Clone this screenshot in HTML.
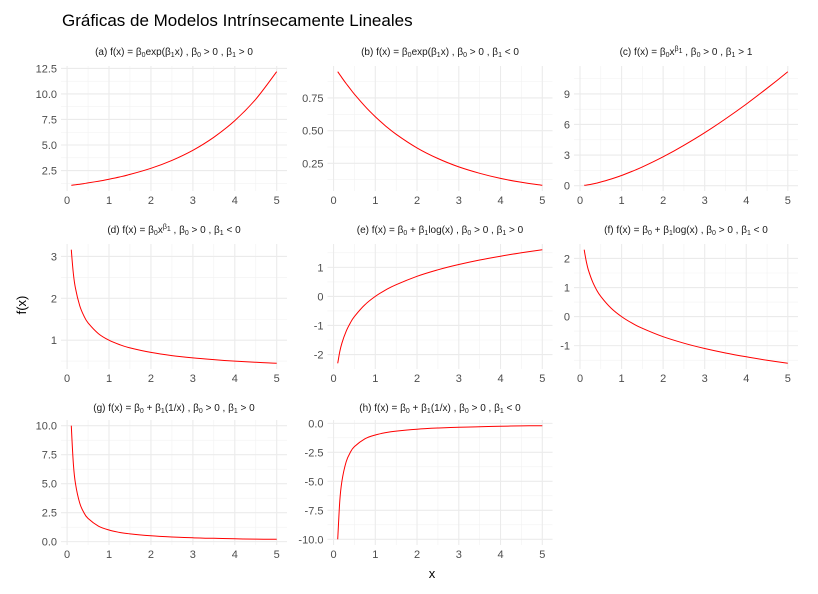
<!DOCTYPE html>
<html><head><meta charset="utf-8"><style>
body{margin:0;background:#fff;font-family:"Liberation Sans",sans-serif;}
#wrap{position:relative;width:818px;height:594px;overflow:hidden;}
.ttl{position:absolute;font-size:10px;color:#1a1a1a;white-space:nowrap;transform:translateX(-50%);}
.ttl sub{font-size:7px;vertical-align:-2px;line-height:0}
.ttl sup{font-size:7px;vertical-align:4px;line-height:0}
</style></head><body>
<div id="wrap">
<svg id="svg" width="818" height="594" style="position:absolute;left:0;top:0">
<text x="62" y="26" font-size="17" fill="#000">Gráficas de Modelos Intrínsecamente Lineales</text>
<text x="432" y="578" font-size="13" fill="#000" text-anchor="middle">x</text>
<text x="26" y="305" font-size="13" fill="#000" text-anchor="middle" transform="rotate(-90 26 305)">f(x)</text>
</svg>
<div class="ttl" style="left:174px;top:47px">(a) f(x) = β<sub>0</sub>exp(β<sub>1</sub>x) , β<sub>0</sub> &gt; 0 , β<sub>1</sub> &gt; 0</div>
<div class="ttl" style="left:440px;top:47px">(b) f(x) = β<sub>0</sub>exp(β<sub>1</sub>x) , β<sub>0</sub> &gt; 0 , β<sub>1</sub> &lt; 0</div>
<div class="ttl" style="left:686px;top:47px">(c) f(x) = β<sub>0</sub>x<sup>β<sub>1</sub></sup> , β<sub>0</sub> &gt; 0 , β<sub>1</sub> &gt; 1</div>
<div class="ttl" style="left:174px;top:225px">(d) f(x) = β<sub>0</sub>x<sup>β<sub>1</sub></sup> , β<sub>0</sub> &gt; 0 , β<sub>1</sub> &lt; 0</div>
<div class="ttl" style="left:440px;top:225px">(e) f(x) = β<sub>0</sub> + β<sub>1</sub>log(x) , β<sub>0</sub> &gt; 0 , β<sub>1</sub> &gt; 0</div>
<div class="ttl" style="left:686px;top:225px">(f) f(x) = β<sub>0</sub> + β<sub>1</sub>log(x) , β<sub>0</sub> &gt; 0 , β<sub>1</sub> &lt; 0</div>
<div class="ttl" style="left:174px;top:403px">(g) f(x) = β<sub>0</sub> + β<sub>1</sub>(1/x) , β<sub>0</sub> &gt; 0 , β<sub>1</sub> &gt; 0</div>
<div class="ttl" style="left:440px;top:403px">(h) f(x) = β<sub>0</sub> + β<sub>1</sub>(1/x) , β<sub>0</sub> &gt; 0 , β<sub>1</sub> &lt; 0</div>
</div>
<script>
const xVals=[0.1,0.15,0.2,0.3,0.4,0.5,0.75,1,1.25,1.5,2,2.5,3,3.5,4,4.5,5];
const xTicks=[0,1,2,3,4,5];
const yA=[1.051,1.078,1.105,1.162,1.221,1.284,1.455,1.649,1.868,2.117,2.718,3.490,4.482,5.755,7.389,9.488,12.182];
const yB=[0.951,0.928,0.905,0.861,0.819,0.779,0.687,0.607,0.535,0.472,0.368,0.287,0.223,0.174,0.135,0.105,0.082];
const yC=[0.032,0.058,0.089,0.164,0.253,0.354,0.650,1,1.398,1.837,2.828,3.953,5.196,6.548,8,9.546,11.180];
const yD=[3.162,2.582,2.236,1.826,1.581,1.414,1.155,1,0.894,0.816,0.707,0.632,0.577,0.535,0.5,0.471,0.447];
const yE=[-2.303,-1.897,-1.609,-1.204,-0.916,-0.693,-0.288,0,0.223,0.405,0.693,0.916,1.099,1.253,1.386,1.504,1.609];
const yF=[2.303,1.897,1.609,1.204,0.916,0.693,0.288,0,-0.223,-0.405,-0.693,-0.916,-1.099,-1.253,-1.386,-1.504,-1.609];
const yG=[10,6.667,5,3.333,2.5,2,1.333,1,0.8,0.667,0.5,0.4,0.333,0.286,0.25,0.222,0.2];
const yH=[-10,-6.667,-5,-3.333,-2.5,-2,-1.333,-1,-0.8,-0.667,-0.5,-0.4,-0.333,-0.286,-0.25,-0.222,-0.2];
const ticksA=[2.5,5,7.5,10,12.5], labA=["2.5","5.0","7.5","10.0","12.5"];
const ticksB=[0.25,0.5,0.75], labB=["0.25","0.50","0.75"];
const ticksC=[0,3,6,9], labC=["0","3","6","9"];
const ticksD=[1,2,3], labD=["1","2","3"];
const ticksE=[-2,-1,0,1], labE=["-2","-1","0","1"];
const ticksF=[-1,0,1,2], labF=["-1","0","1","2"];
const ticksG=[0,2.5,5,7.5,10], labG=["0.0","2.5","5.0","7.5","10.0"];
const ticksH=[-10,-7.5,-5,-2.5,0], labH=["-10.0","-7.5","-5.0","-2.5","0.0"];

const NS="http://www.w3.org/2000/svg";
const svg=document.getElementById('svg');
const cols=[{l:61,r:287},{l:327.5,r:552.5},{l:574,r:798}];
const rows=[66,244,420];
const H=125;
function mk(tag,attrs,parent){const e=document.createElementNS(NS,tag);for(const k in attrs)e.setAttribute(k,attrs[k]);(parent||svg).appendChild(e);return e;}
function smooth(pts){
  let d='M'+pts[0][0].toFixed(1)+','+pts[0][1].toFixed(1);
  for(let i=0;i<pts.length-1;i++){
    const p0=pts[Math.max(0,i-1)],p1=pts[i],p2=pts[i+1],p3=pts[Math.min(pts.length-1,i+2)];
    const c1=[p1[0]+(p2[0]-p0[0])/6,p1[1]+(p2[1]-p0[1])/6];
    const c2=[p2[0]-(p3[0]-p1[0])/6,p2[1]-(p3[1]-p1[1])/6];
    d+='C'+c1.map(v=>v.toFixed(1)).join(',')+' '+c2.map(v=>v.toFixed(1)).join(',')+' '+p2[0].toFixed(1)+','+p2[1].toFixed(1);
  }
  return d;
}
function panel(id,c,r,ys,ticks,labs){
  const L=cols[c].l,R=cols[c].r,T=rows[r],B=T+H;
  const g=mk('g',{});
  
  
  const xmin=Math.min(...xVals),xmax=Math.max(...xVals),xe=(xmax-xmin)*0.05;
  const ymin=Math.min(...ys),ymax=Math.max(...ys),ye=(ymax-ymin)*0.05;
  const sx=v=>L+(v-(xmin-xe))/((xmax+xe)-(xmin-xe))*(R-L);
  const sy=v=>B-(v-(ymin-ye))/((ymax+ye)-(ymin-ye))*(B-T);
  for(let i=0;i<xTicks.length-1;i++){const m=(xTicks[i]+xTicks[i+1])/2;const X=sx(m);mk('line',{x1:X,x2:X,y1:T,y2:B,stroke:'#f2f2f2','stroke-width':0.6},g);}
  for(let i=0;i<ticks.length-1;i++){const m=(ticks[i]+ticks[i+1])/2;const Y=sy(m);mk('line',{x1:L,x2:R,y1:Y,y2:Y,stroke:'#f2f2f2','stroke-width':0.6},g);}
  const dt=ticks[1]-ticks[0];
  [ticks[0]-dt/2,ticks[ticks.length-1]+dt/2].forEach(m=>{const Y=sy(m);if(Y>T&&Y<B)mk('line',{x1:L,x2:R,y1:Y,y2:Y,stroke:'#f2f2f2','stroke-width':0.6},g);});
  xTicks.forEach(v=>{const X=sx(v);mk('line',{x1:X,x2:X,y1:T,y2:B,stroke:'#ebebeb','stroke-width':1.1},g);
    const t=mk('text',{x:X,y:B+13,'font-size':11,fill:'#4d4d4d','text-anchor':'middle'},g);t.textContent=v;
    
    });
  ticks.forEach((v,i)=>{const Y=sy(v);mk('line',{x1:L,x2:R,y1:Y,y2:Y,stroke:'#ebebeb','stroke-width':1.1},g);
    const t=mk('text',{x:L-4,y:Y+4,'font-size':11,fill:'#4d4d4d','text-anchor':'end'},g);t.textContent=labs[i];
    
    });
  const pts=xVals.map((x,i)=>[sx(x),sy(ys[i])]);
  const p=mk('path',{d:smooth(pts),fill:'none',stroke:'#ff0000','stroke-width':1},g);
  
  
}
panel('a',0,0,yA,ticksA,labA);
panel('b',1,0,yB,ticksB,labB);
panel('c',2,0,yC,ticksC,labC);
panel('d',0,1,yD,ticksD,labD);
panel('e',1,1,yE,ticksE,labE);
panel('f',2,1,yF,ticksF,labF);
panel('g',0,2,yG,ticksG,labG);
panel('h',1,2,yH,ticksH,labH);
</script>
</body></html>
